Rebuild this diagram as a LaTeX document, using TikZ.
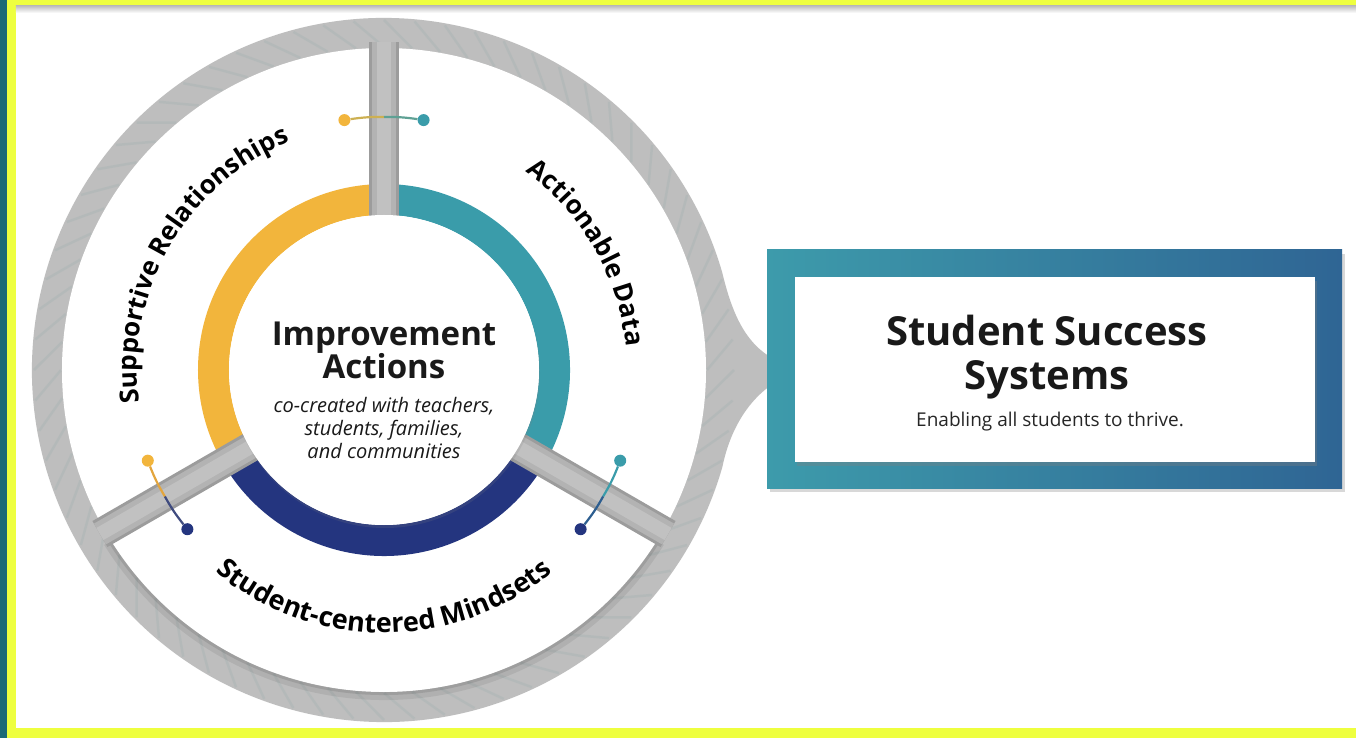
\documentclass[tikz,border=0pt]{standalone}
\usepackage{fontspec}
\setmainfont{Open Sans}
\usetikzlibrary{decorations.text,shadows,positioning}

\definecolor{ringyellow}{HTML}{F2B53C}
\definecolor{ringteal}{HTML}{3A9CAA}
\definecolor{ringnavy}{HTML}{24357F}
\definecolor{ringgray}{HTML}{BEBEBE}
\definecolor{stripegray}{HTML}{A9B5B5}
\definecolor{bardark}{HTML}{9C9C9C}
\definecolor{barmid}{HTML}{B3B3B3}
\definecolor{barlight}{HTML}{C1C1C1}
\definecolor{frameyellow}{HTML}{EEFF3F}
\definecolor{frameteal}{HTML}{1C6A76}
\definecolor{boxteal}{HTML}{3D9BAB}
\definecolor{boxblue}{HTML}{2F6594}

\tikzset{
  dot/.style={circle, inner sep=0pt, minimum size=12pt},
  link/.style={line width=2.2pt},
  ringlabel/.style={decorate, decoration={text along path, text align=center, text={#1}}},
  hubtext/.style={align=center, text=black!90},
}

\begin{document}
\begin{tikzpicture}[x=1pt, y=1pt]
\useasboundingbox (-384,-368) rectangle (972,370);
% frame
\fill[frameyellow] (-384,-368) rectangle (972,370);
\fill[frameteal] (-384,-368) rectangle (-377,370);
\fill[white] (-368,-358) rectangle (972,364);
\shade[top color=gray!50, bottom color=white] (-368,364) rectangle (972,357);

% outer ring with pointer
\fill[ringgray] (16:352) .. controls (352,40) and (372,8) .. (424,0)
  .. controls (385,-6) and (350,-40) .. (-16:352)
  arc[start angle=-16, end angle=-344, radius=352] -- cycle;
\foreach \a in {0,5,...,355}
  \draw[stripegray, line width=2.5pt, opacity=0.45] (\a:323) -- (\a+5:350);
\fill[white] (0,0) circle[radius=322];

% shadow of the lower sector
\draw[black, opacity=0.07, line width=8pt] (212:326) arc[start angle=212, end angle=328, radius=326];
\draw[black, opacity=0.10, line width=3pt] (212:323.5) arc[start angle=212, end angle=328, radius=323.5];

% coloured ring
\draw[line width=31pt, ringyellow] (90:170.5) arc[start angle=90, end angle=210, radius=170.5];
\draw[line width=31pt, ringnavy] (210:170.5) arc[start angle=210, end angle=330, radius=170.5];
\draw[line width=31pt, ringteal] (-30:170.5) arc[start angle=-30, end angle=90, radius=170.5];

% dividers
\foreach \a in {90,210,330} {
  \draw[bardark, line width=30pt] (0,0) -- (\a:328);
  \draw[barmid, line width=24pt] (0,0) -- (\a:328);
  \draw[barlight, line width=14pt] (0,0) -- (\a:328);
}

% hub
\node[circle, fill=white, minimum size=310pt, inner sep=0pt,
  drop shadow={opacity=0.18, shadow xshift=1pt, shadow yshift=-3pt}] (hub) at (0,0) {};
\node[hubtext, font=\bfseries\fontsize{33}{33}\selectfont] (improve) at (0,20) {Improvement\\Actions};
\node[hubtext, font=\itshape\fontsize{20}{23}\selectfont] (cocreate) at (0,-58)
  {co-created with teachers,\\students, families,\\and communities};

% ring labels
\path[ringlabel={|\bfseries\fontsize{26}{26}\selectfont|Supportive Relationships}]
  (195:247) arc[start angle=195, end angle=105, radius=247];
\path[ringlabel={|\bfseries\fontsize{26}{26}\selectfont|Actionable Data}]
  (75:243) arc[start angle=75, end angle=-15, radius=243];
\path[ringlabel={|\bfseries\fontsize{27}{27}\selectfont|Student-centered Mindsets}]
  (215:263) arc[start angle=215, end angle=325, radius=263];

% links across the dividers
\node[dot, fill=ringyellow] (y1) at (99:253) {};
\node[dot, fill=ringteal] (t1) at (81:253) {};
\node[dot, fill=ringyellow] (y2) at (201:253) {};
\node[dot, fill=ringnavy] (n2) at (219:253) {};
\node[dot, fill=ringteal] (t3) at (339:253) {};
\node[dot, fill=ringnavy] (n3) at (321:253) {};
\coordinate (m1) at (90:253);
\coordinate (m2) at (210:253);
\coordinate (m3) at (330:253);
\draw[link, ringyellow!80!ringteal] (y1) to[bend left=4.5] (m1);
\draw[link, ringteal!80!ringyellow] (m1) to[bend left=4.5] (t1);
\draw[link, ringyellow!70!brown] (y2) to[bend right=4.5] (m2);
\draw[link, ringnavy!70!gray] (m2) to[bend right=4.5] (n2);
\draw[link, ringteal] (t3) to[bend left=4.5] (m3);
\draw[link, ringteal!40!ringnavy] (m3) to[bend left=4.5] (n3);

% result box
\node[left color=boxteal, right color=boxblue, minimum width=575pt, minimum height=238pt,
  drop shadow={opacity=0.3, shadow xshift=3pt, shadow yshift=-4pt}] (sysframe) at (670.5,1) {};
\node[fill=white, minimum width=520pt, minimum height=185pt,
  drop shadow={opacity=0.35, shadow xshift=2pt, shadow yshift=-4pt}] (sysinner) at (671,0.5) {};
\node[align=center, text=black!90, font=\bfseries\fontsize{40}{44}\selectfont] (systitle) at (663,13) {Student Success\\Systems};
\node[text=black!85, font=\fontsize{19}{22}\selectfont] (systag) at (666,-52) {Enabling all students to thrive.};
\end{tikzpicture}
\end{document}
